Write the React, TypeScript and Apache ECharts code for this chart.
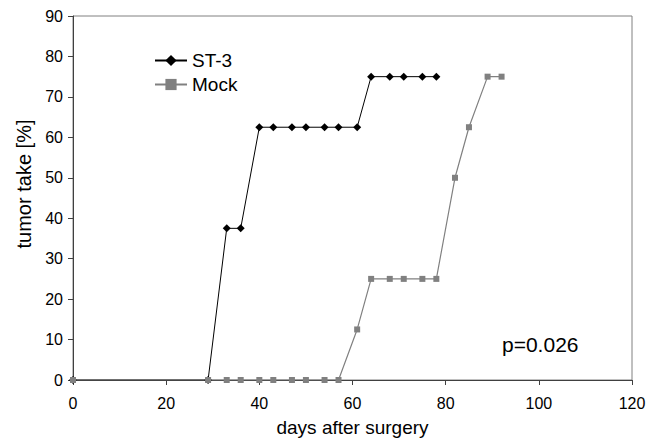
import React, { useEffect, useRef } from "react";
import * as echarts from "echarts";

const days = [0, 29, 33, 36, 40, 43, 47, 50, 54, 57, 61, 64, 68, 71, 75, 78, 82, 85, 89, 92];
const st3Days = [0, 29, 33, 36, 40, 43, 47, 50, 54, 57, 61, 64, 68, 71, 75, 78];
const st3Values = [0, 0, 37.5, 37.5, 62.5, 62.5, 62.5, 62.5, 62.5, 62.5, 62.5, 75, 75, 75, 75, 75];
const mockDays = days;
const mockValues = [0, 0, 0, 0, 0, 0, 0, 0, 0, 0, 12.5, 25, 25, 25, 25, 25, 50, 62.5, 75, 75];
const seriesNames = ["ST-3", "Mock"];
const xTitle = "days after surgery";
const yTitle = "tumor take [%]";
const pText = "p=0.026";

const FONT = "Liberation Sans, Arial, sans-serif";

export default function App() {
  const ref = useRef<HTMLDivElement>(null);
  useEffect(() => {
    document.body.style.margin = "0";
    if (!ref.current) return;
    const chart = echarts.init(ref.current, undefined, { renderer: "svg" });
    chart.setOption({
      animation: false,
      backgroundColor: "#ffffff",
      textStyle: { fontFamily: FONT },
      grid: {
        left: 73,
        right: 16,
        top: 16,
        bottom: 59,
        outerBoundsMode: "none",
        containLabel: false,
        show: true,
        borderColor: "#808080",
        borderWidth: 1,
      },
      legend: {
        orient: "vertical",
        left: 149,
        top: 46,
        itemWidth: 32,
        itemHeight: 14,
        itemGap: 5,
        textStyle: { fontSize: 19, color: "#000", fontFamily: FONT },
        data: seriesNames,
      },
      xAxis: {
        type: "value",
        min: 0,
        max: 120,
        interval: 20,
        name: xTitle,
        nameLocation: "middle",
        nameGap: 38,
        nameTextStyle: { fontSize: 19, color: "#000", fontFamily: FONT },
        axisLine: { show: true, lineStyle: { color: "#404040", width: 1 } },
        axisTick: { show: true, length: 5, lineStyle: { color: "#404040" } },
        axisLabel: { fontSize: 16, color: "#000", margin: 15, fontFamily: FONT },
        splitLine: { show: false },
      },
      yAxis: {
        type: "value",
        min: 0,
        max: 90,
        interval: 10,
        axisLine: { show: true, lineStyle: { color: "#404040", width: 1 } },
        axisTick: { show: true, length: 5, lineStyle: { color: "#404040" } },
        axisLabel: { fontSize: 16, color: "#000", margin: 10, fontFamily: FONT },
        splitLine: { show: false },
      },
      graphic: [
        {
          type: "text",
          x: 24,
          y: 184,
          rotation: Math.PI / 2,
          style: {
            text: yTitle,
            fontSize: 20,
            fill: "#000",
            fontFamily: FONT,
            align: "center",
            verticalAlign: "middle",
          },
        },
        {
          type: "text",
          x: 502,
          y: 344,
          style: {
            text: pText,
            fontSize: 21,
            fill: "#000",
            fontFamily: FONT,
            align: "left",
            verticalAlign: "middle",
          },
        },
      ],
      series: [
        {
          name: seriesNames[0],
          type: "line",
          data: st3Days.map((d, i) => [d, st3Values[i]]),
          symbol: "diamond",
          symbolSize: 8,
          itemStyle: { color: "#000000" },
          lineStyle: { color: "#000000", width: 1 },
          z: 2,
        },
        {
          name: seriesNames[1],
          type: "line",
          data: mockDays.map((d, i) => [d, mockValues[i]]),
          symbol: "rect",
          symbolSize: 6,
          itemStyle: { color: "#808080" },
          lineStyle: { color: "#808080", width: 1.2 },
          z: 3,
        },
      ],
    });
    return () => chart.dispose();
  }, []);
  return <div ref={ref} style={{ width: 648, height: 439 }} />;
}
